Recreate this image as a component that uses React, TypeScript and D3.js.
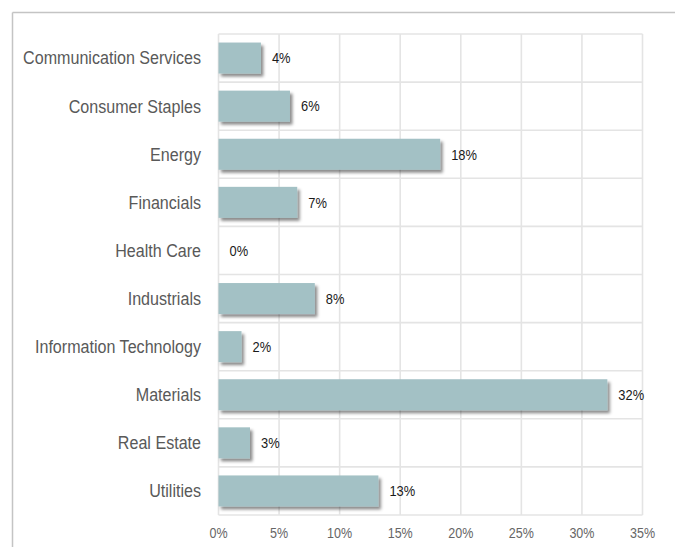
import React from "react";
import * as d3 from "d3";

const categories = [
  "Communication Services",
  "Consumer Staples",
  "Energy",
  "Financials",
  "Health Care",
  "Industrials",
  "Information Technology",
  "Materials",
  "Real Estate",
  "Utilities",
];
const values = [3.5, 5.9, 18.3, 6.5, 0, 7.95, 1.9, 32.1, 2.6, 13.2];
const labels = ["4%", "6%", "18%", "7%", "0%", "8%", "2%", "32%", "3%", "13%"];
const ticks = [0, 5, 10, 15, 20, 25, 30, 35];

const W = 675;
const H = 547;
const left = 218.5;
const right = 642.5;
const top = 34;
const bottom = 515;
const SX = 0.87;
const font = "'Liberation Sans', Arial, sans-serif";

function SText(props: {
  x: number;
  y: number;
  size: number;
  fill: string;
  anchor?: "start" | "middle" | "end";
  children: React.ReactNode;
}) {
  return (
    <text
      transform={`translate(${props.x},${props.y}) scale(${SX},1)`}
      dominantBaseline="central"
      textAnchor={props.anchor || "start"}
      fontFamily={font}
      fontSize={props.size}
      fill={props.fill}
    >
      {props.children}
    </text>
  );
}

export default function App() {
  const x = d3.scaleLinear().domain([0, 35]).range([left, right]);
  const y = d3
    .scaleBand<string>()
    .domain(categories)
    .range([top, bottom])
    .paddingInner(0.355)
    .paddingOuter(0.1775);
  const band = (bottom - top) / categories.length;
  return (
    <svg
      width={W}
      height={H}
      style={{ position: "absolute", left: 0, top: 0, background: "#fff" }}
    >
      <defs>
        <filter id="sh" x="-10%" y="-30%" width="130%" height="180%">
          <feDropShadow dx="2.5" dy="3" stdDeviation="1.8" floodColor="#000" floodOpacity="0.45" />
        </filter>
      </defs>
      {/* outer frame */}
      <line x1={12.5} x2={W} y1={12.5} y2={12.5} stroke="#c4c4c4" strokeWidth={1.5} />
      <line x1={12.5} x2={12.5} y1={12.5} y2={H} stroke="#c4c4c4" strokeWidth={1.5} />
      {/* grid */}
      {ticks.map((t) => (
        <line key={"v" + t} x1={x(t)} x2={x(t)} y1={top} y2={bottom} stroke="#e4e4e4" strokeWidth={1.6} />
      ))}
      {d3.range(categories.length + 1).map((i) => (
        <line key={"h" + i} x1={left} x2={right} y1={top + i * band} y2={top + i * band} stroke="#e4e4e4" strokeWidth={1.6} />
      ))}
      {/* bars */}
      {categories.map((c, i) =>
        values[i] > 0 ? (
          <rect
            key={"b" + c}
            x={x(0)}
            y={y(c)!}
            width={x(values[i]) - x(0)}
            height={y.bandwidth()}
            fill="#a3c1c5"
            filter="url(#sh)"
          />
        ) : null
      )}
      {/* value labels */}
      {categories.map((c, i) => (
        <SText key={"l" + c} x={x(values[i]) + 11} y={y(c)! + y.bandwidth() / 2} size={14.8} fill="#1a1a1a">
          {labels[i]}
        </SText>
      ))}
      {/* category labels */}
      {categories.map((c) => (
        <SText key={"c" + c} x={201} y={y(c)! + y.bandwidth() / 2} size={18.5} fill="#595959" anchor="end">
          {c}
        </SText>
      ))}
      {/* x ticks */}
      {ticks.map((t) => (
        <SText key={"t" + t} x={x(t)} y={533} size={14.4} fill="#666" anchor="middle">
          {t + "%"}
        </SText>
      ))}
    </svg>
  );
}
